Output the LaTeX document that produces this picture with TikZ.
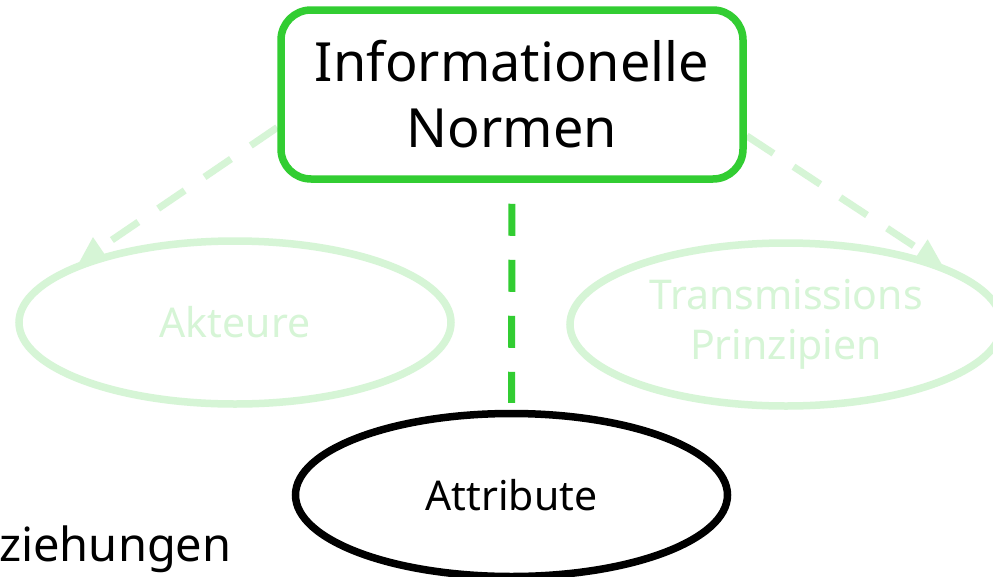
\documentclass[tikz,border=0pt]{standalone}
\usepackage{fontspec}
\setmainfont{Noto Sans}
\usetikzlibrary{shapes.geometric,arrows.meta,backgrounds}
\definecolor{nodegreen}{RGB}{50,205,50}
\colorlet{fadegreen}{nodegreen!20}

\begin{document}
\begin{tikzpicture}[x=1pt,y=-1pt,
  normbox/.style={draw=nodegreen,line width=7.5pt,rounded corners=30pt,fill=white,
    minimum width=462pt,minimum height=169pt,inner sep=0pt,align=center,
    font=\fontsize{54}{66}\selectfont},
  oval/.style={ellipse,line width=7.5pt,minimum width=432pt,minimum height=163pt,
    inner sep=0pt,align=center,font=\fontsize{41}{50}\selectfont},
  faded/.style={oval,draw=fadegreen,text=fadegreen},
  active/.style={oval,draw=black,fill=white},
  link/.style={line width=7pt,dash pattern=on 32pt off 24pt},
  fadedlink/.style={link,draw=fadegreen,-{Triangle[length=26pt,width=24pt]}},
]
\clip (0,0) rectangle (993,576);

% concept nodes
\node[faded] (akt) at (235,322.5) {Akteure};
\node[faded] (tp) at (786,324.5) {Transmissions\\Prinzipien};
\node[normbox] (box) at (512,94.5) {Informationelle\\Normen};

% links run underneath the nodes
\begin{pgfonlayer}{background}
  \fill[white] (0,0) rectangle (993,576);
  \draw[fadedlink] (box.188) -- (akt.159);
  \draw[fadedlink] (box.350) -- (tp.21);
\end{pgfonlayer}

% active link down to the attribute node
\node[active] (attr) at (511.5,495) {Attribute};
\begin{pgfonlayer}{background}
  \draw[link,draw=nodegreen,shorten >=7pt,shorten <=21pt] (box.south) -- (attr.north);
\end{pgfonlayer}

% partially visible label at the left margin
\node[anchor=base west,inner sep=0pt,font=\fontsize{47}{56}\selectfont] (bez) at (-1,561) {ziehungen};
\end{tikzpicture}
\end{document}
